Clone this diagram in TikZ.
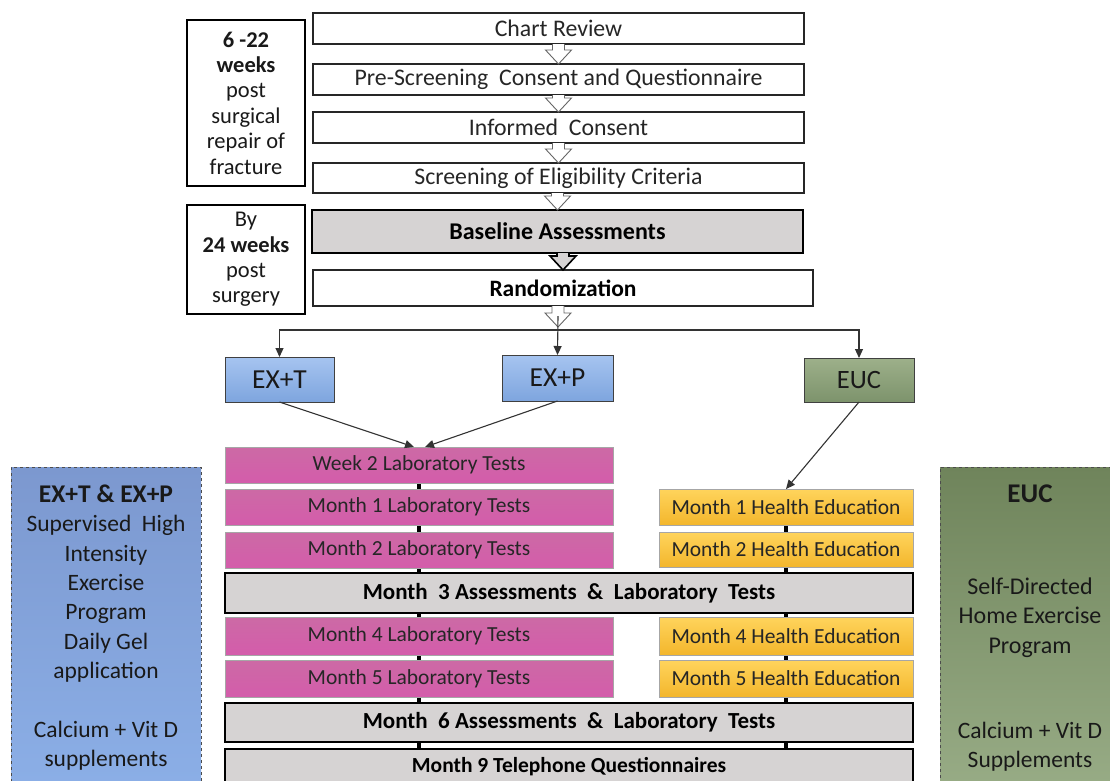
\documentclass[tikz,border=0pt]{standalone}
\usepackage{fontspec}
\setmainfont{Carlito}
\usetikzlibrary{arrows.meta,calc,backgrounds}
\definecolor{bluetop}{HTML}{A6C4F0}
\definecolor{bluebot}{HTML}{7EA5DE}
\definecolor{greentop}{HTML}{9DB08A}
\definecolor{greenbot}{HTML}{7D936C}
\definecolor{pinktop}{HTML}{CC6AA5}
\definecolor{pinkbot}{HTML}{D45CAB}
\definecolor{yeltop}{HTML}{FFD45C}
\definecolor{yelbot}{HTML}{F3B62C}
\definecolor{boxgray}{HTML}{D6D3D3}
\definecolor{lptop}{HTML}{7C98CF}
\definecolor{lpmid}{HTML}{A8C5F0}
\definecolor{lpbot}{HTML}{8CB0E8}
\definecolor{rptop}{HTML}{6F845B}
\definecolor{rpmid}{HTML}{A3B390}
\definecolor{rpbot}{HTML}{9AAE88}
\tikzset{
  base/.style={rectangle, inner sep=0pt, outer sep=0pt, align=center},
  whitebox/.style={base, draw=black!85, line width=1.1pt, fill=white, font=\fontsize{23.8}{27}\selectfont, text=black!85},
  timebox/.style={base, draw=black, line width=1.1pt, fill=white, font=\fontsize{22.5}{25.4}\selectfont, text=black!90},
  graybox/.style={base, draw=black, line width=1.8pt, fill=boxgray, font=\fontsize{23}{26}\selectfont\bfseries},
  armbox/.style={base, draw=black!75, line width=1pt, top color=bluetop, bottom color=bluebot, font=\fontsize{27.5}{30}\selectfont, text=black!90},
  eucbox/.style={base, draw=black!75, line width=1pt, top color=greentop, bottom color=greenbot, font=\fontsize{26.5}{30}\selectfont, text=black!90},
  labbox/.style={base, draw=black!35, line width=0.6pt, top color=pinktop, bottom color=pinkbot, font=\fontsize{21.5}{25}\selectfont, text=black!85},
  hebox/.style={base, draw=black!35, line width=0.6pt, top color=yeltop, bottom color=yelbot, font=\fontsize{21.5}{25}\selectfont, text=black!85},
  panel/.style={base, draw=black!70, line width=1pt, dashed},
  paneltext/.style={base, anchor=north, font=\fontsize{23.5}{29.3}\selectfont, text=black!90},
  conn/.style={draw=black!80, line width=1.1pt, -{Triangle[length=9pt,width=8pt]}},
  hollow/.style={draw=black!60, line width=0.9pt, fill=white, line join=miter},
  thickhollow/.style={draw=black, line width=1.6pt, fill=boxgray, line join=miter},
  spine/.style={draw=black, line width=4.5pt}
}
\newcommand\hollowarr[3][]{%
  \path #2 coordinate (ha-s) #3 coordinate (ha-t);
  \draw[hollow,#1] ($(ha-t |- ha-s)+(-6,0)$) -- ($(ha-t)+(-6,-14)$) -- ($(ha-t)+(-13,-14)$) -- (ha-t) -- ($(ha-t)+(13,-14)$) -- ($(ha-t)+(6,-14)$) -- ($(ha-t |- ha-s)+(6,0)$);}
\begin{document}
\begin{tikzpicture}[x=1pt,y=-1pt]
\useasboundingbox (0,0) rectangle (1110,780);
% left panels
\node[panel, top color=lptop, middle color=lpmid, bottom color=lpbot, minimum width=190pt, minimum height=340pt] (lpanel) at (106,637) {};
\node[paneltext] (lptext) at (106,485) {{\fontsize{25.5}{29.3}\selectfont\textbf{EX+T \& EX+P}}\\Supervised\ \ High\\Intensity\\Exercise\\Program\\Daily Gel\\application\\[29.3pt]Calcium + Vit D\\supplements};
\node[panel, top color=rptop, middle color=rpmid, bottom color=rpbot, minimum width=180pt, minimum height=340pt] (rpanel) at (1030,637) {};
\node[paneltext, font=\fontsize{27}{30}\selectfont\bfseries] (rptitle) at (1030,485) {EUC};
\node[paneltext, font=\fontsize{24}{29.3}\selectfont] (rptext1) at (1030,578) {Self-Directed\\Home Exercise\\Program};
\node[paneltext] (rptext2) at (1030,722) {Calcium + Vit D\\Supplements};

% time boxes
\node[timebox, minimum width=118pt, minimum height=166pt] (t1) at (246,103) {\textbf{6 -22}\\\textbf{weeks}\\post\\surgical\\repair of\\fracture};
\node[timebox, minimum width=118pt, minimum height=109pt] (t2) at (246,259.5) {By\\\textbf{24 weeks}\\post\\surgery};

% screening steps
\node[whitebox, minimum width=491pt, minimum height=31pt] (chart) at (558.5,28.5) {Chart Review};
\node[whitebox, minimum width=491pt, minimum height=31pt] (pre) at (558.5,79.5) {Pre-Screening\ \ Consent and Questionnaire};
\node[whitebox, minimum width=491pt, minimum height=31pt] (inf) at (558.5,127.5) {Informed\ \ Consent};
\node[whitebox, minimum width=491pt, minimum height=30pt] (scr) at (558.5,178) {Screening of Eligibility Criteria};
\node[graybox, minimum width=491pt, minimum height=43pt, font=\fontsize{24}{27}\selectfont\bfseries] (basel) at (557.5,231.5) {Baseline Assessments};
\node[whitebox, minimum width=500pt, minimum height=36pt, font=\fontsize{23.5}{27}\selectfont\bfseries, text=black] (rand) at (563,288) {Randomization};

\hollowarr{(chart.south)}{(pre.north)}
\hollowarr{(pre.south)}{(inf.north)}
\hollowarr{(inf.south)}{(scr.north)}
\hollowarr{(scr.south)}{(basel.north)}
\hollowarr[thickhollow]{(basel.south)}{(rand.north)}
\coordinate (rtip) at (558,327);
\hollowarr{(rand.south)}{(rtip)}

% arms
\node[armbox, minimum width=109pt, minimum height=45pt] (ext) at (279.5,379.5) {EX+T};
\node[armbox, minimum width=111pt, minimum height=46pt] (exp) at (557.5,378) {EX+P};
\node[eucbox, minimum width=110pt, minimum height=44pt] (euc) at (859,380) {EUC};

\coordinate (split) at (558,330);
\coordinate (rline) at (558,316);
\draw[conn] (rline) -- (exp.north);
\draw[conn] (split) -| (ext.north);
\draw[conn] (split) -| (euc.north);

% schedule
\node[labbox, minimum width=388pt, minimum height=36pt] (w2) at (419,465) {Week 2 Laboratory Tests};
\node[labbox, minimum width=388pt, minimum height=36pt] (m1l) at (419,507) {Month 1 Laboratory Tests};
\node[labbox, minimum width=388pt, minimum height=36pt] (m2l) at (419,550) {Month 2 Laboratory Tests};
\node[graybox, minimum width=688pt, minimum height=40pt] (m3) at (569,593) {Month\ \ 3 Assessments\ \ \&\ \ Laboratory\ \ Tests};
\node[labbox, minimum width=388pt, minimum height=38pt] (m4l) at (419,636) {Month 4 Laboratory Tests};
\node[labbox, minimum width=388pt, minimum height=37pt] (m5l) at (419,678.5) {Month 5 Laboratory Tests};
\node[graybox, minimum width=688pt, minimum height=39pt] (m6) at (569,722.5) {Month\ \ 6 Assessments\ \ \&\ \ Laboratory\ \ Tests};
\node[graybox, minimum width=688pt, minimum height=36pt, font=\fontsize{21.5}{24}\selectfont\bfseries] (m9) at (569,767) {Month 9 Telephone Questionnaires};

\node[hebox, minimum width=254pt, minimum height=36pt] (m1h) at (786,507) {Month 1 Health Education};
\node[hebox, minimum width=254pt, minimum height=35pt] (m2h) at (786,549.5) {Month 2 Health Education};
\node[hebox, minimum width=254pt, minimum height=38pt] (m4h) at (786,636) {Month 4 Health Education};
\node[hebox, minimum width=254pt, minimum height=37pt] (m5h) at (786,678.5) {Month 5 Health Education};

\begin{scope}[on background layer]
\draw[spine] (w2.south) -- (m9.north -| w2.south);
\draw[spine] (m1h.south) -- (m9.north -| m1h.south);
\end{scope}

\draw[conn] (ext.south) -- ($(w2.north)+(-5,0)$);
\draw[conn] (exp.south) -- ($(w2.north)+(6,0)$);
\draw[conn] (euc.south) -- (m1h.north);
\end{tikzpicture}
\end{document}
